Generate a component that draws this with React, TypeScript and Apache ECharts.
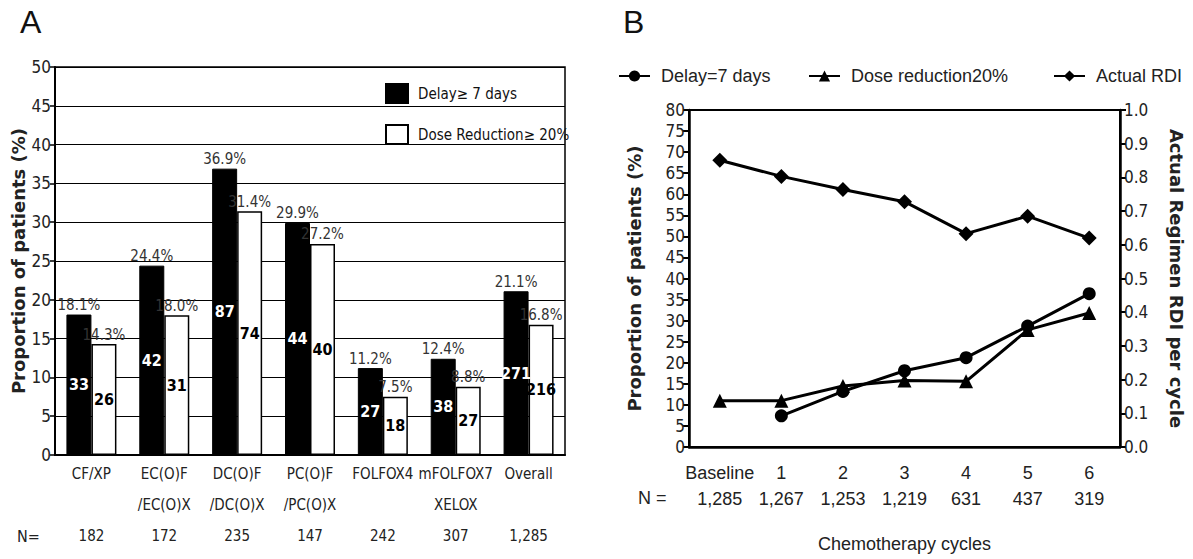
import React, { useEffect, useRef } from "react";
import * as echarts from "echarts";

// ---------- Panel A data ----------
const regimens = [
  "CF/XP",
  "EC(O)F\n/EC(O)X",
  "DC(O)F\n/DC(O)X",
  "PC(O)F\n/PC(O)X",
  "FOLFOX4",
  "mFOLFOX7\nXELOX",
  "Overall",
];
const regimenN = ["182", "172", "235", "147", "242", "307", "1,285"];
const delayPct = [18.1, 24.4, 36.9, 29.9, 11.2, 12.4, 21.1];
const dosePct = [14.3, 18.0, 31.4, 27.2, 7.5, 8.8, 16.8];
const delayCount = [33, 42, 87, 44, 27, 38, 271];
const doseCount = [26, 31, 74, 40, 18, 27, 216];

// ---------- Panel B data ----------
const cycles = ["Baseline", "1", "2", "3", "4", "5", "6"];
const cycleN = ["1,285", "1,267", "1,253", "1,219", "631", "437", "319"];
const delayCycle = [null, 7.4, 13.2, 18.1, 21.2, 28.7, 36.4];
const doseCycle = [11, 11, 14.5, 15.8, 15.6, 27.8, 31.8];
const rdiCycle = [0.851, 0.803, 0.764, 0.728, 0.633, 0.685, 0.62];

const NARROW = "'Liberation Sans Narrow', 'Arial Narrow', 'DejaVu Sans Condensed', sans-serif";
const REG = "'Liberation Sans', Arial, sans-serif";
const BOLD = "'DejaVu Sans', 'Liberation Sans', sans-serif";

export default function App() {
  const ref = useRef<HTMLDivElement>(null);

  useEffect(() => {
    if (!ref.current) return;
    const chart = echarts.init(ref.current, undefined, { renderer: "svg" });
    const zeros = delayPct.map(() => 0);
    const legendB = {
      itemWidth: 31,
      itemHeight: 14,
      textStyle: { fontSize: 18, fontFamily: REG, color: "#222", padding: [0, 0, 0, 6] },
    };

    const option: any = {
      animation: false,
      backgroundColor: "#fff",
      textStyle: { fontFamily: REG, color: "#222" },
      graphic: [
        { type: "text", left: 20, top: 6, style: { text: "A", fontSize: 32, fontFamily: REG, fill: "#111" } },
        { type: "text", left: 623, top: 6, style: { text: "B", fontSize: 32, fontFamily: REG, fill: "#111" } },
        { type: "text", left: 17, top: 528, style: { text: "N=", fontSize: 16, fontFamily: NARROW, fill: "#222" } },
        { type: "text", left: 638, top: 489, style: { text: "N =", fontSize: 18, fontFamily: REG, fill: "#222" } },
      ],
      legend: [
        {
          data: ["Delay≥ 7 days", "Dose Reduction≥ 20%"],
          orient: "vertical",
          left: 380,
          top: 78,
          icon: "rect",
          itemWidth: 22,
          itemHeight: 19,
          itemGap: 20,
          textStyle: { fontSize: 15, fontFamily: NARROW, color: "#111", padding: [0, 0, 0, 5] },
        },
        { ...legendB, data: ["Delay=7 days"], left: 613, top: 62 },
        { ...legendB, data: ["Dose reduction20%"], left: 803, top: 62 },
        { ...legendB, data: ["Actual RDI"], left: 1048, top: 62 },
      ],
      grid: [
        { left: 55, right: 628, top: 67, bottom: 104, show: true, borderColor: "#000", borderWidth: 1.5 },
        { left: 689, right: 73, top: 110, bottom: 112, show: true, borderColor: "#000", borderWidth: 2 },
      ],
      xAxis: [
        {
          type: "category",
          gridIndex: 0,
          data: regimens,
          axisLine: { lineStyle: { color: "#000", width: 2 } },
          axisTick: { show: false },
          axisLabel: {
            interval: 0,
            margin: 3,
            fontSize: 15,
            lineHeight: 31,
            fontFamily: NARROW,
            color: "#222",
            formatter: (v: string, i: number) => {
              const parts = v.split("\n");
              return parts[0] + "\n" + (parts[1] || " ") + "\n" + regimenN[i];
            },
          },
        },
        {
          type: "category",
          gridIndex: 1,
          data: cycles,
          boundaryGap: true,
          axisLine: { lineStyle: { color: "#000", width: 2.5 } },
          axisTick: { alignWithLabel: true, length: 6, lineStyle: { color: "#000", width: 2 } },
          axisLabel: {
            interval: 0,
            margin: 13,
            fontSize: 18,
            lineHeight: 26,
            fontFamily: REG,
            color: "#222",
            formatter: (v: string, i: number) => v + "\n" + cycleN[i],
          },
          name: "Chemotherapy cycles",
          nameLocation: "middle",
          nameGap: 88,
          nameTextStyle: { fontSize: 18, fontFamily: REG, color: "#222" },
        },
      ],
      yAxis: [
        {
          type: "value",
          gridIndex: 0,
          min: 0,
          max: 50,
          interval: 5,
          axisLine: { show: true, lineStyle: { color: "#000", width: 2 } },
          axisTick: { show: true, length: 5, lineStyle: { color: "#000", width: 1.5 } },
          axisLabel: { fontSize: 17, fontFamily: NARROW, color: "#222", margin: 4 },
          splitLine: { show: true, lineStyle: { color: "#000", width: 1 } },
          name: "Proportion of patients (%)",
          nameLocation: "middle",
          nameGap: 28,
          nameTextStyle: { fontSize: 18, fontWeight: "bold", fontFamily: BOLD, color: "#222" },
        },
        {
          type: "value",
          gridIndex: 1,
          min: 0,
          max: 80,
          interval: 5,
          axisLine: { show: true, lineStyle: { color: "#000", width: 2.5 } },
          axisTick: { show: true, length: 6, lineStyle: { color: "#000", width: 2 } },
          axisLabel: { fontSize: 17, fontFamily: NARROW, color: "#222", margin: 4 },
          splitLine: { show: false },
          name: "Proportion of patients (%)",
          nameLocation: "middle",
          nameGap: 46,
          nameTextStyle: { fontSize: 18, fontWeight: "bold", fontFamily: BOLD, color: "#222" },
        },
        {
          type: "value",
          gridIndex: 1,
          position: "right",
          min: 0,
          max: 1,
          interval: 0.1,
          axisLine: { show: true, lineStyle: { color: "#000", width: 2.5 } },
          axisTick: { show: true, length: 6, lineStyle: { color: "#000", width: 2 } },
          axisLabel: {
            fontSize: 17,
            fontFamily: NARROW,
            color: "#222",
            margin: 4,
            formatter: (v: number) => v.toFixed(1),
          },
          splitLine: { show: false },
          name: "Actual Regimen RDI per cycle",
          nameLocation: "middle",
          nameRotate: -90,
          nameGap: 47,
          nameTextStyle: { fontSize: 18, fontWeight: "bold", fontFamily: BOLD, color: "#222" },
        },
      ],
      series: [
        {
          name: "Delay≥ 7 days",
          type: "bar",
          xAxisIndex: 0,
          yAxisIndex: 0,
          stack: "d",
          barWidth: 25,
          barGap: "0%",
          data: delayPct,
          itemStyle: { color: "#000", borderColor: "#000", borderWidth: 1 },
          label: {
            show: true,
            position: "inside",
            formatter: (p: any) => String(delayCount[p.dataIndex]),
            color: "#fff",
            fontWeight: "bold",
            fontSize: 16,
            fontFamily: NARROW,
          },
        },
        {
          name: "delayPctLabel",
          type: "bar",
          xAxisIndex: 0,
          yAxisIndex: 0,
          stack: "d",
          barWidth: 25,
          barGap: "0%",
          data: zeros,
          itemStyle: { color: "rgba(0,0,0,0)" },
          label: {
            show: true,
            position: "top",
            distance: 2,
            formatter: (p: any) => delayPct[p.dataIndex].toFixed(1) + "%",
            color: "#333",
            fontSize: 15,
            fontFamily: NARROW,
          },
        },
        {
          name: "Dose Reduction≥ 20%",
          type: "bar",
          xAxisIndex: 0,
          yAxisIndex: 0,
          stack: "r",
          barWidth: 25,
          barGap: "0%",
          data: dosePct,
          itemStyle: { color: "#fff", borderColor: "#000", borderWidth: 1.5 },
          label: {
            show: true,
            position: "inside",
            formatter: (p: any) => String(doseCount[p.dataIndex]),
            color: "#000",
            fontWeight: "bold",
            fontSize: 16,
            fontFamily: NARROW,
          },
        },
        {
          name: "dosePctLabel",
          type: "bar",
          xAxisIndex: 0,
          yAxisIndex: 0,
          stack: "r",
          barWidth: 25,
          barGap: "0%",
          data: zeros,
          itemStyle: { color: "rgba(0,0,0,0)" },
          label: {
            show: true,
            position: "top",
            distance: 2,
            formatter: (p: any) => dosePct[p.dataIndex].toFixed(1) + "%",
            color: "#333",
            fontSize: 15,
            fontFamily: NARROW,
          },
        },
        {
          name: "Delay=7 days",
          type: "line",
          xAxisIndex: 1,
          yAxisIndex: 1,
          data: delayCycle,
          symbol: "circle",
          symbolSize: 13,
          lineStyle: { color: "#000", width: 3 },
          itemStyle: { color: "#000" },
        },
        {
          name: "Dose reduction20%",
          type: "line",
          xAxisIndex: 1,
          yAxisIndex: 1,
          data: doseCycle,
          symbol: "triangle",
          symbolSize: 14,
          lineStyle: { color: "#000", width: 3 },
          itemStyle: { color: "#000" },
        },
        {
          name: "Actual RDI",
          type: "line",
          xAxisIndex: 1,
          yAxisIndex: 2,
          data: rdiCycle,
          symbol: "diamond",
          symbolSize: 15,
          lineStyle: { color: "#000", width: 3 },
          itemStyle: { color: "#000" },
        },
      ],
    };

    chart.setOption(option);
    return () => chart.dispose();
  }, []);

  return (
    <div
      ref={ref}
      style={{ position: "absolute", left: 0, top: 0, width: 1193, height: 559, background: "#fff" }}
    />
  );
}
